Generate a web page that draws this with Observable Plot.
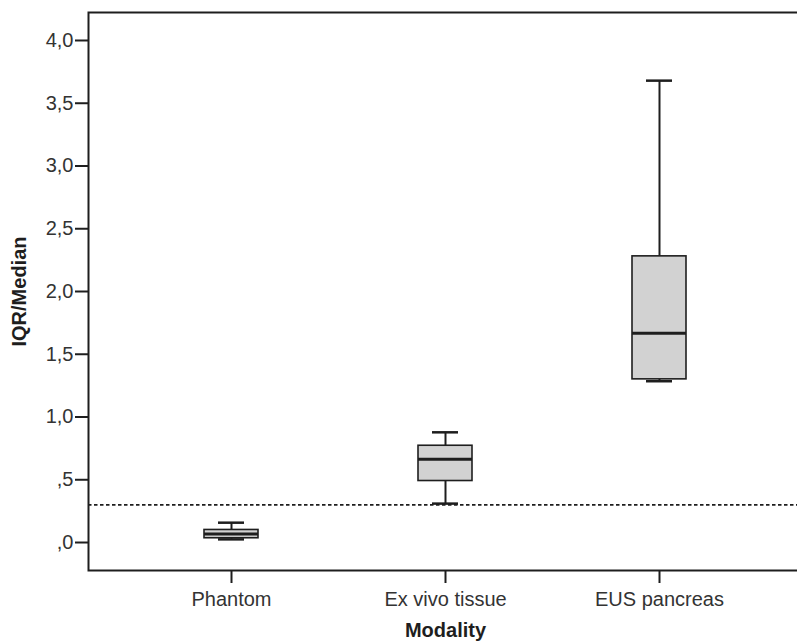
<!DOCTYPE html>
<html>
<head>
<meta charset="utf-8">
<script src="https://cdn.jsdelivr.net/npm/d3@7"></script>
<script src="https://cdn.jsdelivr.net/npm/@observablehq/plot@0.6"></script>
<style>
  html, body { margin: 0; padding: 0; background: #fff; overflow: hidden; }
  #chart svg { display: block; overflow: hidden; }
</style>
</head>
<body>
<div id="chart"></div>
<script>
// ---- data ----
const modalities   = ["Phantom", "Ex vivo tissue", "EUS pancreas"];
const whiskerLow   = [0.025, 0.31, 1.285];
const quartile1    = [0.034, 0.49, 1.30];
const medians      = [0.068, 0.663, 1.667];
const quartile3    = [0.10, 0.771, 2.28];
const whiskerHigh  = [0.158, 0.878, 3.68];
const referenceLine = [0.3];
const yTicks = [0, 0.5, 1, 1.5, 2, 2.5, 3, 3.5, 4];
const yLabel = "IQR/Median";
const xLabel = "Modality";

const data = modalities.map((m, i) => ({
  m, lo: whiskerLow[i], q1: quartile1[i], med: medians[i], q3: quartile3[i], hi: whiskerHigh[i]
}));

const fmt = d => d3.format(".1f")(d).replace(".", ",").replace(/^0/, "");
const ink = "#1e1e1e";

const chart = Plot.plot({
  width: 797,
  height: 644,
  marginLeft: 88,
  marginRight: -5,
  marginTop: 12,
  marginBottom: 74,
  style: { fontFamily: "Arial, 'Liberation Sans', sans-serif", color: ink, background: "#fff" },
  x: { type: "band", domain: modalities, range: [88, 802], paddingInner: 0.749, paddingOuter: 0.535 },
  y: { domain: [-0.223, 4.223] },
  marks: [
    Plot.ruleY(referenceLine, { stroke: ink, strokeWidth: 1.6, strokeDasharray: "3.5,2.5" }),
    Plot.ruleX(data, { x: "m", y1: "lo", y2: "q1", stroke: ink, strokeWidth: 2 }),
    Plot.ruleX(data, { x: "m", y1: "q3", y2: "hi", stroke: ink, strokeWidth: 2 }),
    Plot.barY(data, { x: "m", y1: "q1", y2: "q3", fill: "#d2d2d2", stroke: ink, strokeWidth: 1.6 }),
    Plot.tickY(data, { x: "m", y: "med", stroke: ink, strokeWidth: 3 }),
    Plot.tickY(data, { x: "m", y: "hi", stroke: ink, strokeWidth: 2.5, inset: 14 }),
    Plot.tickY(data, { x: "m", y: "lo", stroke: ink, strokeWidth: 2.5, inset: 14 }),
    Plot.frame({ stroke: ink, strokeWidth: 2 }),
    Plot.axisY({ ticks: yTicks, tickFormat: fmt, tickSize: 13, tickPadding: 2, fontSize: 20, label: null, strokeWidth: 2, fill: "#333" }),
    Plot.axisX({ tickSize: 13, tickPadding: 8, fontSize: 20, label: null, strokeWidth: 2, fill: "#333" }),
    Plot.text([yLabel], { frameAnchor: "left", dx: -69, rotate: -90, textAnchor: "middle", fontSize: 20, fontWeight: "bold", fill: ink }),
    Plot.text([{ m: "Ex vivo tissue", t: xLabel }], { x: "m", text: "t", frameAnchor: "bottom", dy: 66, fontSize: 20, fontWeight: "bold", fill: ink })
  ]
});
document.getElementById("chart").append(chart);
</script>
</body>
</html>
